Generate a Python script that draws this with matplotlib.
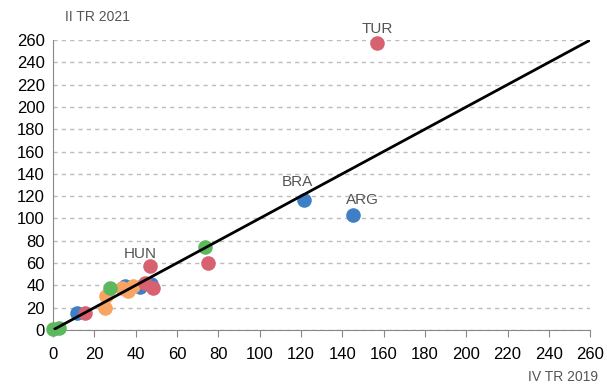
import matplotlib
matplotlib.use("Agg")
import matplotlib.pyplot as plt

plt.rcParams['font.family'] = ['Liberation Sans', 'DejaVu Sans']

# data: x = IV TR 2019, y = II TR 2021
blue_x = [11.5, 35, 42, 47.5, 121.5, 145]
blue_y = [15, 39.5, 38.5, 41, 116.5, 103]
red_x = [15.5, 44.5, 48.5, 47, 75, 157]
red_y = [15, 42, 38, 57, 60, 257]
green_x = [0, 3, 27.5, 73.5]
green_y = [1, 1.5, 37.5, 74]
orange_x = [25, 25.5, 33.5, 36.5, 38.5]
orange_y = [19.5, 30, 37.5, 35, 39.5]
label_names = ["TUR", "BRA", "ARG", "HUN"]
label_x = [157, 121.5, 145, 47]
label_y = [257, 116.5, 103, 57]
line_x = [1, 260]
line_y = [1, 260]

# label offsets in points (layout)
offsets = {"TUR": (0, 10), "BRA": (-5, 13), "ARG": (7, 11), "HUN": (-7, 9)}

fig = plt.figure(figsize=(6.07, 3.85), dpi=100)
ax = fig.add_axes([0.0873, 0.143, 0.885, 0.753])

s = 110
ax.scatter(blue_x, blue_y, s=s, color='#3f7fc6', zorder=3, clip_on=False, linewidths=0)
ax.scatter(orange_x, orange_y, s=s, color='#f8a462', zorder=3, clip_on=False, linewidths=0)
ax.scatter(red_x, red_y, s=s, color='#d8616f', zorder=3, clip_on=False, linewidths=0)
ax.scatter(green_x, green_y, s=s, color='#5cb85e', zorder=3, clip_on=False, linewidths=0)
ax.plot(line_x, line_y, color='black', lw=2, zorder=4)

for name, x, y in zip(label_names, label_x, label_y):
    ax.annotate(name, (x, y), xytext=offsets[name], textcoords='offset points',
                ha='center', va='center', fontsize=11, color='#555555')

ax.set_xlim(0, 260)
ax.set_ylim(0, 260)
ax.set_xticks(range(0, 261, 20))
ax.set_yticks(range(0, 261, 20))
ax.tick_params(axis='x', length=5, color='#888888', labelsize=12, pad=7)
ax.tick_params(axis='y', length=0, labelsize=12, pad=6)
ax.yaxis.grid(True, linestyle=(0, (3, 3)), color='#bcbcbc', lw=1)
ax.set_axisbelow(True)
for sp in ['top', 'right']:
    ax.spines[sp].set_visible(False)
for sp in ['left', 'bottom']:
    ax.spines[sp].set_color('#888888')

fig.text(0.107, 0.955, "II TR 2021", fontsize=10, color='#555555', ha='left', va='center')
fig.text(0.985, 0.02, "IV TR 2019", fontsize=10, color='#555555', ha='right', va='center')

fig.savefig("out.png", dpi=100)
